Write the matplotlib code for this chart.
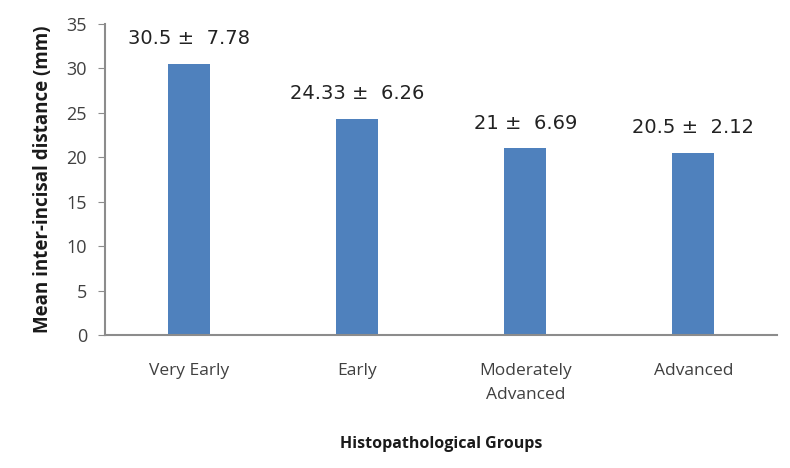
import matplotlib.pyplot as plt

groups = ["Very Early", "Early", "Moderately\nAdvanced", "Advanced"]
means = [30.5, 24.33, 21, 20.5]
sds = [7.78, 6.26, 6.69, 2.12]
yticks = [0, 5, 10, 15, 20, 25, 30, 35]

BAR_COLOR = "#4F81BD"
AXIS_COLOR = "#8C8C8C"
TEXT_COLOR = "#404040"


def main() -> None:
    fig = plt.figure(figsize=(7.9, 4.68), dpi=100)
    ax = fig.add_axes([0.133, 0.284, 0.851, 0.665])

    x = range(len(groups))
    ax.bar(list(x), means, width=0.25, color=BAR_COLOR)

    for i, (m, s) in enumerate(zip(means, sds)):
        label = f"{m:g} \u00b1  {s:.2f}"
        ax.annotate(label, (i, m), xytext=(0, 18), textcoords="offset points",
                    ha="center", va="center", fontsize=14, color="#222222",
                    family="DejaVu Sans")

    ax.set_xlim(-0.5, len(groups) - 0.5)
    ax.set_ylim(0, 35)
    ax.set_yticks(yticks)
    ax.set_xticks(list(x))
    ax.set_xticklabels(groups, fontsize=12.5, color=TEXT_COLOR, family="Open Sans",
                       linespacing=1.65)
    ax.tick_params(axis="x", length=0, pad=20)
    ax.tick_params(axis="y", length=5, color=AXIS_COLOR, labelsize=13,
                   labelcolor=TEXT_COLOR, pad=8)
    for lab in ax.get_yticklabels():
        lab.set_family("Open Sans")

    for side in ("top", "right"):
        ax.spines[side].set_visible(False)
    for side in ("left", "bottom"):
        ax.spines[side].set_color(AXIS_COLOR)
        ax.spines[side].set_linewidth(1.5)

    ax.set_ylabel("Mean inter-incisal distance (mm)", fontsize=13.5, fontweight="bold",
                  family="Open Sans", color="#1a1a1a", labelpad=10)
    ax.set_xlabel("Histopathological Groups", fontsize=11.5, fontweight="bold",
                  family="Open Sans", color="#1a1a1a", labelpad=24)

    fig.savefig("out.png", dpi=100)
    plt.close(fig)


if __name__ == "__main__":
    main()
